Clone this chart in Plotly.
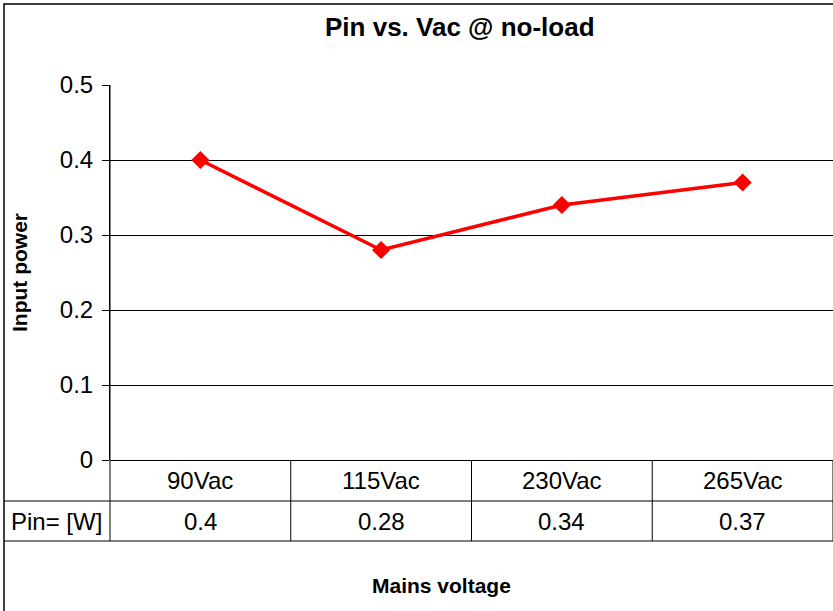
import plotly.graph_objects as go

categories = ["90Vac", "115Vac", "230Vac", "265Vac"]
pin_values = [0.4, 0.28, 0.34, 0.37]
value_labels = ["0.4", "0.28", "0.34", "0.37"]
y_ticks = [0, 0.1, 0.2, 0.3, 0.4, 0.5]
y_tick_labels = ["0", "0.1", "0.2", "0.3", "0.4", "0.5"]
row_label = "Pin= [W]"

W, H = 833, 611
L, T, R, B = 110, 85, 0, 151
pw = W - L - R
ph = H - T - B

def px_to_paper_x(px):
    return (px - L) / pw

def px_to_paper_y(py):
    return (H - B - py) / ph

FONT = "Liberation Sans, Arial, sans-serif"
TXT = 24

fig = go.Figure()
fig.add_trace(go.Scatter(
    x=list(range(len(categories))), y=pin_values,
    mode="lines+markers",
    line=dict(color="#FF0000", width=3.5),
    marker=dict(symbol="diamond", size=14, color="#FF0000"),
    showlegend=False, hoverinfo="skip", cliponaxis=False,
))

shapes = []
annotations = []
row1_top = px_to_paper_y(460)
row1_bot = px_to_paper_y(501)
row2_bot = px_to_paper_y(541)
left_border = px_to_paper_x(4)
top_border = px_to_paper_y(4)

line_style = dict(color="#000000", width=1)
# outer chart border
shapes.append(dict(type="rect", xref="paper", yref="paper",
                   x0=left_border, x1=1.05, y0=-0.6, y1=top_border,
                   line=dict(color="#000000", width=1.5), layer="below"))
# table horizontal lines
shapes.append(dict(type="line", xref="paper", yref="paper",
                   x0=left_border, x1=1.05, y0=row1_bot, y1=row1_bot, line=line_style))
shapes.append(dict(type="line", xref="paper", yref="paper",
                   x0=left_border, x1=1.05, y0=row2_bot, y1=row2_bot, line=line_style))
# left axis line extension through table
shapes.append(dict(type="line", xref="paper", yref="paper",
                   x0=0, x1=0, y0=row2_bot, y1=1, line=line_style))
# category separators
for i in range(1, len(categories) + 1):
    shapes.append(dict(type="line", xref="x", yref="paper",
                       x0=i - 0.5, x1=i - 0.5, y0=row2_bot, y1=row1_top, line=line_style))

def ann(**kw):
    kw.setdefault("showarrow", False)
    kw.setdefault("xanchor", "center")
    kw.setdefault("yanchor", "middle")
    annotations.append(kw)

for i, (c, v) in enumerate(zip(categories, value_labels)):
    ann(x=i, y=(row1_top + row1_bot) / 2, xref="x", yref="paper",
        text=c, font=dict(size=TXT, color="#000", family=FONT))
    ann(x=i, y=(row1_bot + row2_bot) / 2, xref="x", yref="paper",
        text=v, font=dict(size=TXT, color="#000", family=FONT))

ann(x=px_to_paper_x(56), y=(row1_bot + row2_bot) / 2, xref="paper", yref="paper",
    text=row_label, font=dict(size=TXT, color="#000", family=FONT))
ann(x=px_to_paper_x(441.5), y=px_to_paper_y(585), xref="paper", yref="paper",
    text="<b>Mains voltage</b>", font=dict(size=21, color="#000", family=FONT))
ann(x=px_to_paper_x(19), y=px_to_paper_y(273), xref="paper", yref="paper",
    text="<b>Input power</b>", textangle=-90, font=dict(size=21, color="#000", family=FONT))
ann(x=px_to_paper_x(460), y=px_to_paper_y(27), xref="paper", yref="paper",
    text="<b>Pin vs. Vac @ no-load</b>", font=dict(size=26, color="#000", family=FONT))

fig.update_layout(
    width=W, height=H,
    margin=dict(l=L, r=R, t=T, b=B, pad=0),
    paper_bgcolor="white", plot_bgcolor="white",
    font=dict(family=FONT, color="#000"),
    shapes=shapes, annotations=annotations,
    xaxis=dict(range=[-0.5, len(categories) - 0.5], showticklabels=False, showgrid=False,
               zeroline=False, showline=False, ticks="", fixedrange=True),
    yaxis=dict(range=[0, 0.5], tickvals=y_ticks, ticktext=y_tick_labels,
               showgrid=True, gridcolor="#000000", gridwidth=1,
               zeroline=True, zerolinecolor="#000000", zerolinewidth=1,
               showline=True, linecolor="#000000", linewidth=1,
               ticks="outside", ticklen=7, tickcolor="#000000",
               ticklabelstandoff=4,
               tickfont=dict(size=TXT, color="#000", family=FONT), fixedrange=True),
)

fig.write_html("out.html", config={"displayModeBar": False},
               post_script="document.body.style.margin='0';document.body.style.padding='0';")
